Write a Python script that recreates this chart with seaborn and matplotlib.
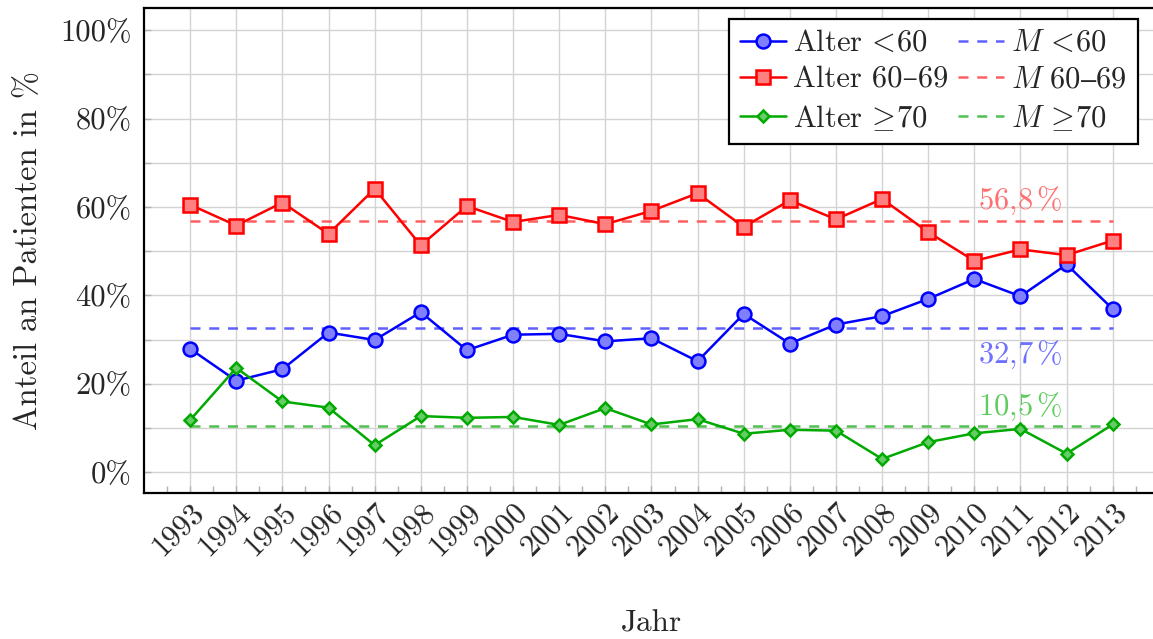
import numpy as np
import pandas as pd
import seaborn as sns
import matplotlib
matplotlib.use("Agg")
import matplotlib.pyplot as plt
from matplotlib.ticker import MultipleLocator, FixedLocator

sns.set_theme(style="white")
plt.rcParams['font.family'] = ['cmr10', 'DejaVu Serif']
plt.rcParams['mathtext.fontset'] = 'cm'
plt.rcParams['axes.formatter.use_mathtext'] = True

# ------------ DATA ------------ #
years = list(range(1993, 2014))
alter_u60 = [27.9, 20.7, 23.3, 31.6, 29.9, 36.2, 27.6, 31.1, 31.3, 29.6, 30.3,
             25.1, 35.8, 29.1, 33.4, 35.3, 39.2, 43.7, 39.8, 47.0, 36.9]
alter_60_69 = [60.5, 55.8, 61.0, 53.9, 64.1, 51.3, 60.2, 56.6, 58.2, 56.1, 59.1,
               63.1, 55.5, 61.5, 57.2, 61.8, 54.3, 47.8, 50.4, 49.1, 52.4]
alter_ue70 = [11.8, 23.6, 16.0, 14.6, 6.1, 12.7, 12.3, 12.5, 10.7, 14.5, 10.8,
              12.0, 8.7, 9.6, 9.4, 3.0, 6.8, 8.8, 9.8, 4.2, 10.8]
mean_u60 = 32.7
mean_60_69 = 56.8
mean_ue70 = 10.5
mean_texts = ['32,7$\\,$%', '56,8$\\,$%', '10,5$\\,$%']

series = [
    # values, label, line colour, face colour, marker, size, mean, mean colour, mean label
    (alter_u60,   'Alter$\\,<\\!$60',     '#0000ff', '#8080ff', 'o', 10, mean_u60,   '#6060ff', '$M\\,<\\!$60'),
    (alter_60_69, 'Alter 60\u201369',     '#ff0000', '#ff8080', 's', 10, mean_60_69, '#ff6060', '$M\\ 60\\text{\u2013}69$'),
    (alter_ue70,  'Alter$\\,\\geq\\!$70', '#00aa00', '#66cc66', 'D', 6, mean_ue70,  '#50c050', '$M\\,\\geq\\!$70'),
]

fig = plt.figure(figsize=(11.53, 6.39), dpi=100)
ax = fig.add_axes([0.1249, 0.2285, 0.8802, 0.759])

line_handles = []
mean_handles = []
for vals, lab, col, fcol, mk, ms, m, mcol, mlab in series:
    df = pd.DataFrame({'Jahr': years, 'Anteil': vals})
    sns.lineplot(data=df, x='Jahr', y='Anteil', ax=ax, color=col, lw=1.8,
                 marker=mk, markersize=ms, markerfacecolor=fcol,
                 markeredgecolor=col, markeredgewidth=1.8, label=lab, zorder=4)
    line_handles.append(ax.lines[-1])
for vals, lab, col, fcol, mk, ms, m, mcol, mlab in series:
    h = ax.hlines(m, years[0], years[-1], colors=mcol, linestyles=(0, (4, 3.5)),
                  lw=1.8, label=mlab, zorder=3)
    mean_handles.append(h)

# mean value annotations
ax.text(2011, 59.6, mean_texts[1], color='#ff7070', fontsize=22, ha='center', va='baseline')
ax.text(2011, 24.8, mean_texts[0], color='#7070ff', fontsize=22, ha='center', va='baseline')
ax.text(2011, 12.9, mean_texts[2], color='#60cc60', fontsize=22, ha='center', va='baseline')

ax.set_xlim(1992, 2014)
ax.set_ylim(-4.7, 105)
ax.xaxis.set_major_locator(FixedLocator(years))
ax.xaxis.set_minor_locator(FixedLocator([y + 0.5 for y in range(1992, 2014)]))
ax.yaxis.set_major_locator(FixedLocator([0, 20, 40, 60, 80, 100]))
ax.yaxis.set_minor_locator(MultipleLocator(10))
ax.set_yticklabels(['%d%%' % v for v in [0, 20, 40, 60, 80, 100]], fontsize=22)
ax.set_xticklabels([str(y) for y in years], fontsize=22, rotation=45,
                   ha='right', rotation_mode='anchor')

ax.grid(which='major', axis='x', color='#d3d3d3', lw=1)
ax.grid(which='minor', axis='y', color='#d3d3d3', lw=1)
ax.grid(which='major', axis='y', color='#d3d3d3', lw=1)
ax.tick_params(which='both', direction='in', color='#b0b0b0', length=5, width=1,
               bottom=True, left=True, top=False, right=False)
ax.tick_params(axis='x', which='major', pad=4)
ax.tick_params(axis='y', which='major', pad=9)

for s in ax.spines.values():
    s.set_color('black')
    s.set_linewidth(1.6)

ax.set_xlabel('Jahr', fontsize=22.5, labelpad=35)
ax.set_ylabel('Anteil an Patienten in %', fontsize=23.5, labelpad=12)

leg = ax.legend(handles=line_handles + mean_handles,
                labels=[s[1] for s in series] + [s[8] for s in series],
                ncol=2, loc='upper right', bbox_to_anchor=(0.979, 0.977),
                borderaxespad=0, fontsize=22, frameon=True, fancybox=False,
                framealpha=1, edgecolor='black', handlelength=1.5,
                columnspacing=0.3, handletextpad=0.25, labelspacing=0.3,
                borderpad=0.35, numpoints=1)
leg.get_frame().set_linewidth(1.6)

fig.savefig('out.png', dpi=100)
